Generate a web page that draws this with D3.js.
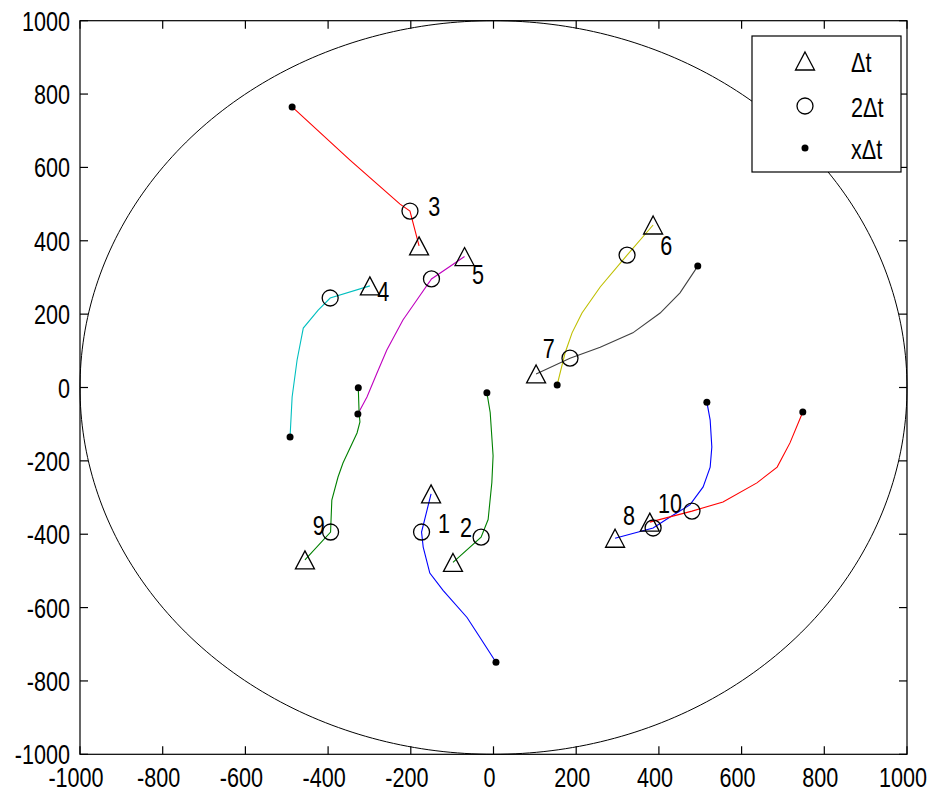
<!DOCTYPE html>
<html><head><meta charset="utf-8">
<script src="https://cdn.jsdelivr.net/npm/d3@7/dist/d3.min.js"></script>
<style>
html,body{margin:0;padding:0;background:#fff;}
svg{display:block;}
text{font-family:"Liberation Sans",Arial,sans-serif;}
</style></head>
<body>
<script>
// ---- data ----
const xTicks = [-1000,-800,-600,-400,-200,0,200,400,600,800,1000];
const yTicks = [-1000,-800,-600,-400,-200,0,200,400,600,800,1000];
const trackNames = ["1","2","3","4","5","6","7","8","9","10"];
// each track: first point = Δt (triangle), second = 2Δt (circle), last = xΔt (dot)
const track1X = [-151,-174,-170,-154,-122,-64,-33,6];
const track1Y = [-290,-394,-435,-506,-553,-627,-681,-749];
const track2X = [-98,-30,-13,-4,-1,-8,-16];
const track2Y = [-477,-408,-360,-259,-186,-68,-14];
const track3X = [-180,-202,-226,-347,-487];
const track3Y = [386,481,500,620,765];
const track4X = [-299,-395,-424,-460,-475,-487,-492];
const track4Y = [277,244,211,162,75,-26,-135];
const track5X = [-70,-150,-190,-219,-258,-282,-306,-328];
const track5Y = [357,296,231,184,102,39,-26,-72];
const track6X = [386,323,258,214,190,173,154];
const track6Y = [443,361,274,203,149,94,7];
const track7X = [103,185,258,337,403,451,494];
const track7Y = [37,80,110,149,203,258,331];
const track8X = [294,386,427,475,507,524,528,524,516];
const track8Y = [-411,-383,-353,-320,-271,-217,-162,-89,-40];
const track9X = [-456,-394,-391,-376,-364,-330,-323,-325,-327];
const track9Y = [-470,-394,-307,-244,-206,-124,-94,-70,-1];
const track10X = [378,480,555,637,686,717,748];
const track10Y = [-367,-337,-312,-260,-217,-151,-67];
// label anchor points (data units)
const labelX = [-134,-81,-158,-281,-52,403,119,313,-437,398];
const labelY = [-397,-408,467,236,282,361,80,-375,-402,-342];
const legendLabels = ["\u0394t","2\u0394t","x\u0394t"];
const circleRadius = 1000;

const tracksX = [track1X,track2X,track3X,track4X,track5X,track6X,track7X,track8X,track9X,track10X];
const tracksY = [track1Y,track2Y,track3Y,track4Y,track5Y,track6Y,track7Y,track8Y,track9Y,track10Y];
const colorOrder = ["#0000ff","#008000","#ff0000","#00bfbf","#bf00bf","#bfbf00","#404040"];

// ---- layout ----
const W = 936, H = 794;
const L = 80, R = 907, T = 20.7, B = 754.3;
const x = d3.scaleLinear().domain([-1000,1000]).range([L,R]);
const y = d3.scaleLinear().domain([-1000,1000]).range([B,T]);

const svg = d3.select("body").append("svg").attr("width",W).attr("height",H);
svg.append("rect").attr("width",W).attr("height",H).attr("fill","#fff");

const FS = 27, SX = 0.8;
function ctext(g, px, py, str, anchor){
  return g.append("text")
    .attr("transform",`translate(${px},${py}) scale(${SX},1)`)
    .attr("text-anchor",anchor)
    .attr("font-size",FS).attr("fill","#000").text(str);
}

// big circle
const circ = d3.range(0,361,1).map(a=>[circleRadius*Math.cos(a*Math.PI/180), circleRadius*Math.sin(a*Math.PI/180)]);
svg.append("path").attr("d", d3.line().x(d=>x(d[0])).y(d=>y(d[1]))(circ))
  .attr("fill","none").attr("stroke","#000").attr("stroke-width",1);

// tracks
const line = d3.line().x(d=>x(d[0])).y(d=>y(d[1]));
const gT = svg.append("g");
tracksX.forEach((tx,i)=>{
  const pts = tx.map((v,j)=>[v, tracksY[i][j]]);
  gT.append("path").attr("d",line(pts)).attr("fill","none")
    .attr("stroke",colorOrder[i%colorOrder.length]).attr("stroke-width",1.1);
});

// markers
const triPath = "M0,-9L9.5,9L-9.5,9Z";
const gM = svg.append("g");
tracksX.forEach((tx,i)=>{
  const ty = tracksY[i];
  gM.append("path").attr("d",triPath).attr("transform",`translate(${x(tx[0])},${y(ty[0])})`)
    .attr("fill","none").attr("stroke","#000").attr("stroke-width",1.3);
  gM.append("circle").attr("cx",x(tx[1])).attr("cy",y(ty[1])).attr("r",8)
    .attr("fill","none").attr("stroke","#000").attr("stroke-width",1.3);
  const n = tx.length-1;
  gM.append("circle").attr("cx",x(tx[n])).attr("cy",y(ty[n])).attr("r",3.5).attr("fill","#000");
});

// track labels
trackNames.forEach((s,i)=>{ ctext(svg, x(labelX[i]), y(labelY[i]), s, "start"); });

// axes box and ticks
svg.append("rect").attr("x",L).attr("y",T).attr("width",R-L).attr("height",B-T)
  .attr("fill","none").attr("stroke","#000").attr("stroke-width",1.2);
const gA = svg.append("g").attr("stroke","#000").attr("stroke-width",1.2);
xTicks.forEach(v=>{
  gA.append("line").attr("x1",x(v)).attr("x2",x(v)).attr("y1",B).attr("y2",B-8);
  gA.append("line").attr("x1",x(v)).attr("x2",x(v)).attr("y1",T).attr("y2",T+8);
  ctext(svg, x(v)-4, 787, String(v), "middle");
});
yTicks.forEach(v=>{
  gA.append("line").attr("x1",L).attr("x2",L+8).attr("y1",y(v)).attr("y2",y(v));
  gA.append("line").attr("x1",R).attr("x2",R-8).attr("y1",y(v)).attr("y2",y(v));
  ctext(svg, 70, y(v)+10, String(v), "end");
});

// legend
const lg = svg.append("g");
lg.append("rect").attr("x",752).attr("y",36).attr("width",149).attr("height",136)
  .attr("fill","#fff").attr("stroke","#000").attr("stroke-width",1.2);
const rowY = [61,106,148];
lg.append("path").attr("d",triPath).attr("transform",`translate(805,${rowY[0]})`)
  .attr("fill","none").attr("stroke","#000").attr("stroke-width",1.3);
lg.append("circle").attr("cx",805).attr("cy",rowY[1]).attr("r",8)
  .attr("fill","none").attr("stroke","#000").attr("stroke-width",1.3);
lg.append("circle").attr("cx",805).attr("cy",rowY[2]).attr("r",3.5).attr("fill","#000");
legendLabels.forEach((s,i)=>{ ctext(lg, 851, rowY[i]+11, s, "start"); });
</script>
</body></html>
